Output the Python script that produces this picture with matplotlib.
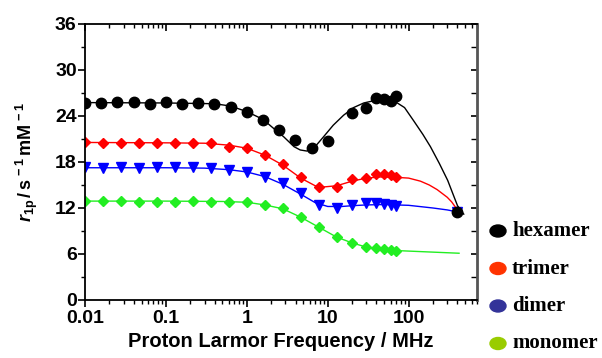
import matplotlib
matplotlib.use("Agg")
import matplotlib.pyplot as plt
from matplotlib.patches import Ellipse
from matplotlib.ticker import FixedLocator, NullFormatter, LogLocator

# measured relaxivities (s^-1 mM^-1) vs proton Larmor frequency (MHz)
hex_freq = [0.01, 0.0158, 0.0251, 0.0398, 0.0631, 0.1, 0.158, 0.251, 0.398, 0.631,
            1.0, 1.58, 2.51, 3.98, 6.31, 10.0, 20, 30, 40, 50, 60, 70, 400]
hexamer = [25.74, 25.65, 25.87, 25.83, 25.57, 25.83, 25.53, 25.65, 25.53, 25.22,
           24.48, 23.5, 22.17, 20.87, 19.78, 20.78, 24.35, 25.0, 26.39, 26.22, 25.96, 26.6, 11.52]

freq = [0.01, 0.0167, 0.0278, 0.0464, 0.0774, 0.129, 0.215, 0.359, 0.599, 1.0,
        1.67, 2.78, 4.64, 7.74, 12.9, 20, 30, 40, 50, 60, 70, 400]
trimer = [20.65, 20.52, 20.52, 20.43, 20.52, 20.43, 20.52, 20.43, 20.0, 19.78,
          18.9, 17.74, 16.0, 14.7, 14.7, 15.83, 15.96, 16.43, 16.43, 16.3, 16.0, 11.5]
dimer = [17.3, 17.17, 17.3, 17.17, 17.3, 17.3, 17.3, 17.17, 16.96, 16.7,
         16.1, 15.2, 13.9, 12.45, 12.0, 12.4, 12.7, 12.6, 12.5, 12.4, 12.3, 11.5]
mono_freq = freq[:-1]
monomer = [12.96, 12.96, 12.96, 12.83, 12.83, 12.83, 12.96, 12.83, 12.74, 12.78,
           12.4, 11.96, 10.78, 9.48, 8.17, 7.48, 6.87, 6.74, 6.61, 6.52, 6.43]

# fitted curves
hex_fit_f = [0.01, 0.1, 0.4, 0.63, 1.0, 1.58, 2.14, 2.85, 3.83, 4.57, 5.51, 6.7, 8.9,
             11.7, 15.7, 20.9, 27.9, 37.4, 49.9, 60, 70, 89, 115, 150, 186, 240, 304,
             360, 402, 480]
hex_fit = [25.75, 25.7, 25.6, 25.3, 24.57, 23.57, 22.39, 21.3, 20.0, 19.57, 19.43, 19.78, 21.3,
           22.8, 24.1, 25.1, 25.7, 26.0, 26.1, 26.0, 25.8, 25.1, 23.4, 21.6, 20.0, 17.8, 15.6,
           13.6, 12.3, 11.2]
tri_fit_f = [0.01, 0.1, 0.3, 0.6, 1.0, 1.67, 2.78, 4.64, 7.0, 9.0, 12.9, 20, 30, 45, 70,
             100, 140, 180, 225, 300, 340, 380, 420]
tri_fit = [20.55, 20.5, 20.45, 20.2, 19.8, 18.9, 17.6, 15.9, 14.9, 14.75, 14.9, 15.5, 15.9, 16.05, 16.0,
           15.9, 15.5, 15.0, 14.4, 13.4, 12.8, 12.1, 11.5]
di_fit_f = [0.01, 0.1, 0.3, 0.6, 1.0, 1.67, 2.78, 4.64, 7.0, 10, 15, 20, 30, 50, 70,
            100, 200, 300, 420]
di_fit = [17.25, 17.25, 17.2, 17.0, 16.7, 16.1, 15.1, 13.8, 12.7, 12.2, 12.2, 12.3, 12.4, 12.45, 12.4,
          12.35, 12.0, 11.75, 11.45]
mono_fit_f = [0.01, 0.1, 0.5, 1.0, 1.67, 2.78, 4.64, 7.74, 12.9, 20, 30, 50, 70, 150, 420]
mono_fit = [12.9, 12.9, 12.85, 12.75, 12.4, 11.9, 10.8, 9.5, 8.2, 7.45, 6.9, 6.6, 6.45, 6.3, 6.1]

legend_labels = ["hexamer", "trimer", "dimer", "monomer"]
legend_colors = ["#000000", "#ff3300", "#333399", "#99cc00"]

plt.rcParams["font.family"] = "Liberation Sans"
plt.rcParams["mathtext.fontset"] = "custom"
plt.rcParams["mathtext.rm"] = "Liberation Sans:bold"
plt.rcParams["mathtext.it"] = "Liberation Sans:bold:italic"

fig = plt.figure(figsize=(6.02, 3.58), dpi=100)
ax = fig.add_axes([85 / 602, 58 / 358, 392 / 602, 276 / 358])

ax.plot(mono_fit_f, mono_fit, "-", color="#22ee22", lw=1.0)
ax.plot(mono_freq, monomer, "D", color="#22ee22", ms=5.2, mec="#22ee22")
ax.plot(di_fit_f, di_fit, "-", color="#0000ff", lw=1.0)
ax.plot(freq, dimer, "v", color="#0000ff", ms=7.5)
ax.plot(tri_fit_f, tri_fit, "-", color="#ff0000", lw=1.0)
ax.plot(freq, trimer, "D", color="#ff0000", ms=5.6)
ax.plot(hex_fit_f, hex_fit, "-", color="black", lw=1.0)
ax.plot(hex_freq, hexamer, "o", color="black", ms=7.5)

ax.set_xscale("log")
ax.set_xlim(0.01, 700)
ax.set_ylim(0, 36)
ax.set_xticks([0.01, 0.1, 1, 10, 100])
ax.set_xticklabels(["0.01", "0.1", "1", "10", "100"])
ax.xaxis.set_minor_locator(LogLocator(base=10, subs=range(2, 10)))
ax.xaxis.set_minor_formatter(NullFormatter())
ax.set_yticks(range(0, 37, 6))
ax.yaxis.set_minor_locator(FixedLocator(range(3, 36, 6)))

for lab in ax.get_xticklabels() + ax.get_yticklabels():
    lab.set_fontweight("bold")
    lab.set_fontsize(14)

ax.tick_params(axis="both", which="major", direction="out", length=5, width=1.2)
ax.tick_params(axis="both", which="minor", direction="out", length=3, width=1)
ax.tick_params(axis="x", which="major", pad=2)
ax.tick_params(axis="y", which="major", pad=1)
ax.tick_params(axis="x", which="both", top=True, labeltop=False)
ax.tick_params(axis="y", which="both", right=True, labelright=False)

for sp in ax.spines.values():
    sp.set_linewidth(1.3)
ax.spines["right"].set_color("#555555")
ax.spines["right"].set_linewidth(2)

ax.set_xlabel("Proton Larmor Frequency / MHz", fontsize=14.5, fontweight="bold", labelpad=4)
ax.set_ylabel(r"$\it{r}_{\rm 1p}\rm\,/\,s^{\,-1}\,mM^{\,-1}$", fontsize=13)
ax.yaxis.set_label_coords(-0.115, 0.5)

# the right/top ticks point inward
for t in ax.xaxis.get_major_ticks() + ax.xaxis.get_minor_ticks():
    t.tick2line.set_marker(3)  # TICKDOWN
for t in ax.yaxis.get_major_ticks() + ax.yaxis.get_minor_ticks():
    t.tick2line.set_marker(0)  # TICKLEFT
    t.tick2line.set_markersize(4)

# legend outside the axes
lax = fig.add_axes([0, 0, 1, 1])
lax.set_xlim(0, 602)
lax.set_ylim(358, 0)
lax.axis("off")
for i, (lab, col) in enumerate(zip(legend_labels, legend_colors)):
    yc = 231 + i * 37.5
    lax.add_patch(Ellipse((498, yc), 16, 12, color=col))
    lax.text(512, yc, lab, fontsize=15, fontweight="bold", family="Liberation Serif",
             va="center", ha="left")

fig.savefig("out.png", dpi=100)
